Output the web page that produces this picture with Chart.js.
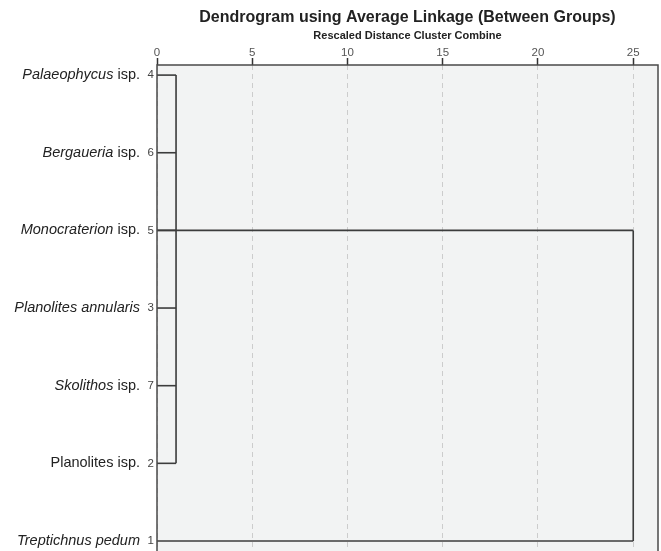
<!DOCTYPE html>
<html>
<head>
<meta charset="utf-8">
<script src="https://cdn.jsdelivr.net/npm/chart.js@4.4.1/dist/chart.umd.min.js"></script>
<style>
html,body{margin:0;padding:0;overflow:hidden;background:#fff;}
#wrap{width:661px;height:580px;}
</style>
</head>
<body>
<div id="wrap"><canvas id="c" width="661" height="580"></canvas></div>
<script>
// ---- data ----
const leafNames = ['Palaeophycus isp.', 'Bergaueria isp.', 'Monocraterion isp.', 'Planolites annularis', 'Skolithos isp.', 'Planolites isp.', 'Treptichnus pedum'];
const italicParts = ['Palaeophycus', 'Bergaueria', 'Monocraterion', 'Planolites annularis', 'Skolithos', '', 'Treptichnus pedum'];
const caseNumbers = [4, 6, 5, 3, 7, 2, 1];
const xTicks = [0, 5, 10, 15, 20, 25];
// merges: member rows, distance, row where the joined cluster continues
const clusterA = [0, 1, 2, 3, 4, 5];
const clusterADistance = 1;
const clusterARow = 2;
const finalDistance = 25;
const outlierRow = 6;

const lineColor = '#3c3c3c';
function seg(points){
  return {data: points.map(p => ({x: p[0], y: p[1]})), showLine: true, borderColor: lineColor, borderWidth: 1.6, pointRadius: 0, fill: false, tension: 0};
}
const datasets = [];
clusterA.forEach(r => datasets.push(seg([[0, r], [clusterADistance, r]])));
datasets.push(seg([[clusterADistance, Math.min(...clusterA)], [clusterADistance, Math.max(...clusterA)]]));
datasets.push(seg([[0, clusterARow], [finalDistance, clusterARow]]));
datasets.push(seg([[0, outlierRow], [finalDistance, outlierRow]]));
datasets.push(seg([[finalDistance, clusterARow], [finalDistance, outlierRow]]));

const FONT = '"Liberation Sans", Arial, sans-serif';
const decor = {
  id: 'decor',
  beforeDraw(chart){
    const {ctx, chartArea: a} = chart;
    ctx.save();
    ctx.fillStyle = '#f2f3f3';
    ctx.fillRect(a.left, a.top, a.right - a.left, a.bottom - a.top);
    ctx.restore();
  },
  afterDraw(chart){
    const {ctx, chartArea: a} = chart;
    const ys = chart.scales.y;
    ctx.save();
    ctx.strokeStyle = '#4a4a4a';
    ctx.lineWidth = 1.5;
    ctx.strokeRect(a.left, a.top, a.right - a.left, a.bottom - a.top);
    const cx = (a.left + a.right) / 2;
    ctx.fillStyle = '#222';
    ctx.textAlign = 'center';
    ctx.textBaseline = 'middle';
    ctx.font = 'bold 16px ' + FONT;
    ctx.fillText('Dendrogram using Average Linkage (Between Groups)', cx, 17.5);
    ctx.font = 'bold 11px ' + FONT;
    ctx.fillText('Rescaled Distance Cluster Combine', cx, 36);
    // leaf names
    ctx.textAlign = 'left';
    const right = 140;
    leafNames.forEach((name, i) => {
      const y = ys.getPixelForValue(i);
      const it = italicParts[i];
      const rest = name.slice(it.length);
      ctx.font = 'italic 14.5px ' + FONT;
      const w1 = ctx.measureText(it).width;
      ctx.font = '14.5px ' + FONT;
      const w2 = ctx.measureText(rest).width;
      const x = right - w1 - w2;
      ctx.fillStyle = '#222';
      ctx.font = 'italic 14.5px ' + FONT;
      ctx.fillText(it, x, y);
      ctx.font = '14.5px ' + FONT;
      ctx.fillText(rest, x + w1, y);
    });
    ctx.restore();
  }
};

new Chart(document.getElementById('c'), {
  type: 'scatter',
  data: {datasets},
  plugins: [decor],
  options: {
    responsive: false,
    animation: false,
    layout: {padding: {left: 0, right: 3, top: 0, bottom: 20}},
    plugins: {legend: {display: false}, tooltip: {enabled: false}, title: {display: false}},
    scales: {
      x: {
        type: 'linear', position: 'top', min: 0, max: 26.3,
        afterBuildTicks: s => { s.ticks = xTicks.map(v => ({value: v})); },
        afterFit: s => { s.height = 65; },
        ticks: {color: '#555', font: {size: 11.5, family: FONT}, padding: -2, maxRotation: 0},
        grid: {color: '#cccccc', lineWidth: 1, tickLength: 7, tickColor: '#333', tickWidth: 1.5, tickBorderDash: []},
        border: {display: false, dash: [5, 4]}
      },
      y: {
        type: 'linear', reverse: true, min: -0.13, max: 6.245,
        afterBuildTicks: s => { s.ticks = caseNumbers.map((c, i) => ({value: i})); },
        afterFit: s => { s.width = 157; },
        ticks: {color: '#444', font: {size: 11.5, family: FONT}, padding: 3, callback: (v) => caseNumbers[v]},
        grid: {display: false, drawTicks: false},
        border: {display: false}
      }
    }
  }
});
</script>
</body>
</html>
